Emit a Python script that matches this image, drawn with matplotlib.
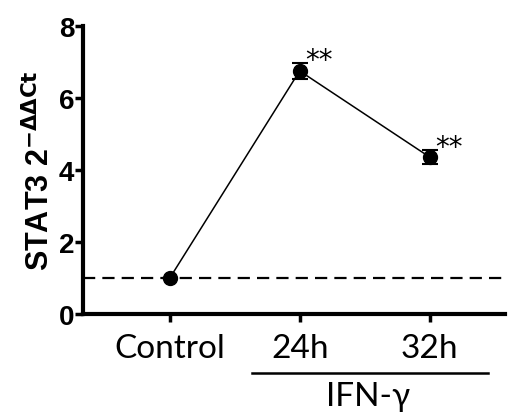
import matplotlib.pyplot as plt
import numpy as np

groups = ['Control', '24h', '32h']
means = [1.0, 6.75, 4.36]
errs = [0.0, 0.23, 0.2]
stars = ['', '**', '**']

fig = plt.figure(figsize=(5.11, 4.14), dpi=100)
ax = fig.add_axes([0.162, 0.239, 0.826, 0.696])

x = np.arange(len(groups))
ax.axhline(1, color='black', lw=1.6, ls=(0, (5.5, 3.2)), zorder=1)
ax.errorbar(x, means, yerr=errs, color='black', lw=1.1, marker='o', ms=10,
            capsize=5.8, capthick=1.5, elinewidth=1.5, zorder=3)
for xi, m, e, s in zip(x, means, errs, stars):
    if s:
        ax.annotate(s, (xi, m + e), xytext=(4, -4), textcoords='offset points',
                    fontsize=20, ha='left', va='baseline', family='DejaVu Sans')

ax.set_xlim(-0.67, 2.58)
ax.set_ylim(0, 8)
ax.set_yticks([0, 2, 4, 6, 8])
ax.set_xticks(x)
ax.set_xticklabels(groups, fontsize=24, family='Lato')
for lab in ax.get_yticklabels():
    lab.set_fontsize(20)
    lab.set_fontweight('bold')
    lab.set_family('Liberation Sans')
ax.tick_params(axis='both', width=2.5, length=6)
ax.tick_params(axis='y', pad=0)
ax.tick_params(axis='x', pad=8)

for side in ['top', 'right']:
    ax.spines[side].set_visible(False)
for side in ['left', 'bottom']:
    ax.spines[side].set_linewidth(3)

ax.set_ylabel(r'STAT3 2$^{\mathbf{-\Delta\Delta Ct}}$', fontsize=22,
              fontweight='bold', family='Liberation Sans', labelpad=2)

# IFN-gamma bracket
ax.plot([0.63, 2.45], [-1.64, -1.64], color='black', lw=1.8, clip_on=False)
ax.text(1.53, -1.85, 'IFN-γ', fontsize=24, family='Lato',
        ha='center', va='top')

fig.savefig('out.png', dpi=100)
